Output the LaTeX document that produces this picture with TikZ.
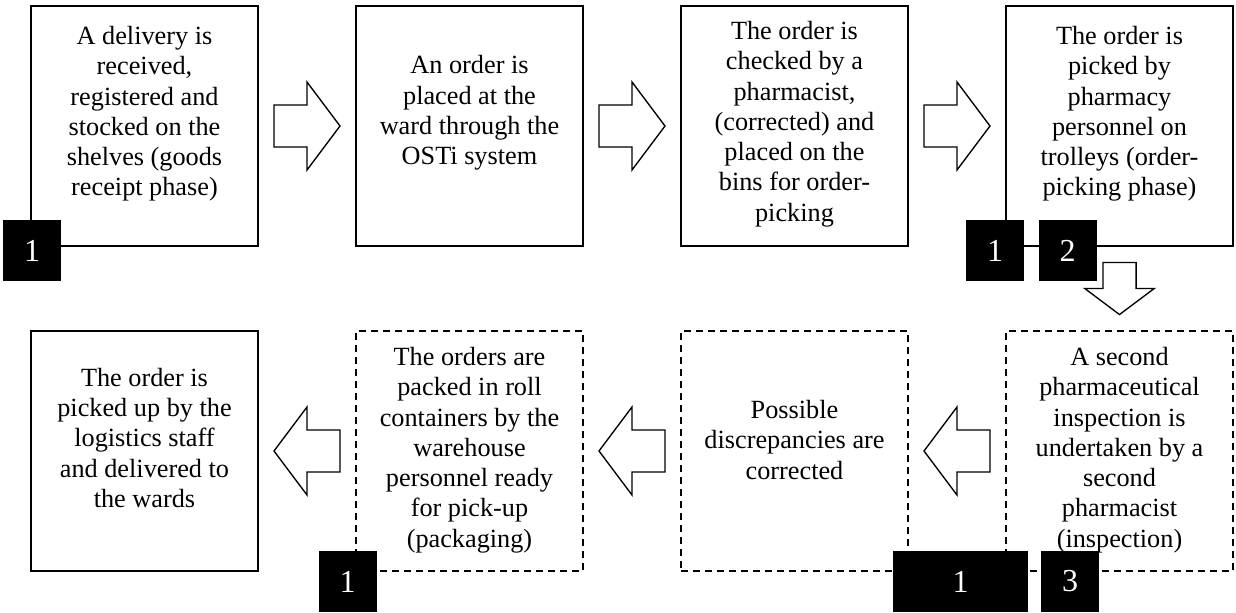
\documentclass[tikz,border=0pt]{standalone}
\usepackage{fontspec}
\setmainfont{Liberation Serif}
\usetikzlibrary{calc}

\tikzset{
  stepbox/.style={draw, line width=1.2pt, minimum width=170.25pt, minimum height=180pt, inner sep=0pt},
  dashbox/.style={stepbox, dash pattern=on 5.5pt off 3.5pt},
  boxtext/.style={align=center, inner sep=0pt, font=\fontsize{19.7}{22.7}\selectfont},
  badge/.style={fill=black, text=white, minimum width=43.5pt, minimum height=45.75pt, inner sep=0pt, font=\fontsize{24}{24}\selectfont},
  widebadge/.style={badge, minimum width=101.25pt},
  arrowline/.style={draw, fill=white, line width=1pt, line join=miter},
  blockarrow/.pic={\draw[arrowline] (-33,-21) -- (0,-21) -- (0,-44) -- (33,0) -- (0,44) -- (0,21) -- (-33,21) -- cycle;}
}

\begin{document}
\begin{tikzpicture}[x=0.75pt,y=-0.75pt]
    \useasboundingbox (0,0) rectangle (1236,613);
    % top row
    \node[stepbox] (deliv) at (144.5,126) {};
    \node[stepbox] (order) at (469.5,126) {};
    \node[stepbox] (check) at (794.5,126) {};
    \node[stepbox] (pick) at (1119.5,126) {};
    \node[boxtext] at ($(deliv.center)+(0,-12)$) {A delivery is\\received,\\registered and\\stocked on the\\shelves (goods\\receipt phase)};
    \node[boxtext] at ($(order.center)+(0,-13)$) {An order is\\placed at the\\ward through the\\OSTi system};
    \node[boxtext] at ($(check.center)+(0,-2)$) {The order is\\checked by a\\pharmacist,\\(corrected) and\\placed on the\\bins for order-\\picking};
    \node[boxtext] at ($(pick.center)+(0,-12)$) {The order is\\picked by\\pharmacy\\personnel on\\trolleys (order-\\picking phase)};
    % bottom row
    \node[stepbox] (ship) at (144.5,451) {};
    \node[dashbox] (pack) at (469.5,451) {};
    \node[dashbox] (correct) at (794.5,451) {};
    \node[dashbox] (inspect) at (1119.5,451) {};
    \node[boxtext] at ($(ship.center)+(0,-13)$) {The order is\\picked up by the\\logistics staff\\and delivered to\\the wards};
    \node[boxtext] at ($(pack.center)+(0,-1)$) {The orders are\\packed in roll\\containers by the\\warehouse\\personnel ready\\for pick-up\\(packaging)};
    \node[boxtext] at ($(correct.center)+(0,-11)$) {Possible\\discrepancies are\\corrected};
    \node[boxtext] at ($(inspect.center)+(0,-1)$) {A second\\pharmaceutical\\inspection is\\undertaken by a\\second\\pharmacist\\(inspection)};
    % badges
    \node[badge] (n1a) at (32,250.5) {1};
    \node[badge] (n4a) at (995,250.5) {1};
    \node[badge] (n4b) at (1067.5,250.5) {2};
    \node[badge] (n6a) at (347.5,581.5) {1};
    \node[widebadge] (n8a) at (960.5,581.5) {1};
    \node[badge] (n8b) at (1070,581.5) {3};
    % arrows
    \pic at ($(deliv.east)!0.5!(order.west)$) {blockarrow};
    \pic at ($(order.east)!0.5!(check.west)$) {blockarrow};
    \pic at ($(check.east)!0.5!(pick.west)$) {blockarrow};
    \pic[rotate=-90, scale=0.79] at ($(pick.south)!0.5!(inspect.north)$) {blockarrow};
    \pic[rotate=180] at ($(inspect.west)!0.5!(correct.east)$) {blockarrow};
    \pic[rotate=180] at ($(correct.west)!0.5!(pack.east)$) {blockarrow};
    \pic[rotate=180] at ($(pack.west)!0.5!(ship.east)$) {blockarrow};
\end{tikzpicture}
\end{document}
